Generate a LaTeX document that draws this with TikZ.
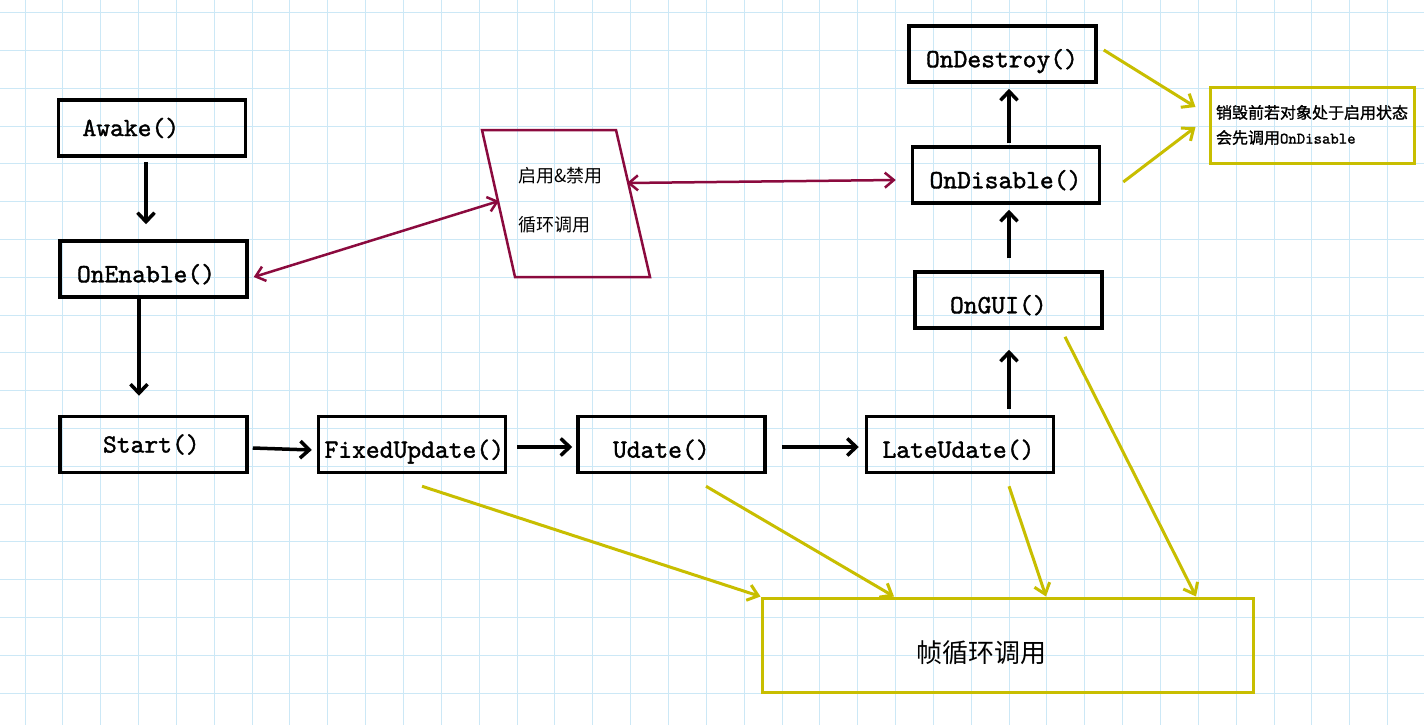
\documentclass[tikz,border=0pt]{standalone}
\usepackage{fontspec}
\newfontfamily\cjk{Noto Sans CJK SC}
\newfontfamily\cjkheavy{Noto Sans CJK SC}[FakeBold=1.2]
\newfontfamily\codefont{lmmono10-regular.otf}[FakeBold=1.4]
\usetikzlibrary{arrows.meta}
\definecolor{gridblue}{RGB}{204,232,246}
\definecolor{loopyellow}{RGB}{200,190,0}
\definecolor{switchred}{RGB}{139,10,62}

\begin{document}
\begin{tikzpicture}[x=1pt,y=-1pt,
    func/.style={draw,line width=3.5pt,text width=187pt,inner xsep=0pt,minimum height=56pt,align=left,font=\fontsize{26.3}{30}\selectfont\codefont},
    low/.style={text height=32.5pt,text depth=6pt},
    flow/.style={line width=3.5pt,-{Straight Barb[length=9pt,width=17pt]}},
    call/.style={loopyellow,line width=3pt,-{Straight Barb[length=10pt,width=16pt]}},
    toggle/.style={switchred,line width=2.5pt,{Straight Barb[length=9pt,width=15pt]}-{Straight Barb[length=9pt,width=15pt]}}]
            % paper
            \useasboundingbox (0,0) rectangle (1424,725);
            \fill[white] (0,0) rectangle (1424,725);
            \foreach \i in {0,...,36}
                \draw[gridblue,line width=1pt] ({25+37.85*\i},0) -- ({25+37.85*\i},725);
            \foreach \j in {0,...,18}
                \draw[gridblue,line width=1pt] (0,{12.7+37.8*\j}) -- (1424,{12.7+37.8*\j});
            % lifecycle functions
            \node[func] (awake) at (152,128) {\hspace*{24pt}Awake()};
            \node[func,low] (onenable) at (153.5,269) {\hspace*{17pt}OnEnable()};
            \node[func] (start) at (153.5,444.5) {\hspace*{43pt}Start()};
            \node[func,low] (fixed) at (412,444.5) {\hspace*{6pt}\mbox{FixedUpdate()}};
            \node[func,low] (udate) at (671.5,444.5) {\hspace*{35pt}Udate()};
            \node[func,low] (late) at (960,444.5) {\hspace*{16pt}LateUdate()};
            \node[func,low] (ongui) at (1008.5,300) {\hspace*{35pt}OnGUI()};
            \node[func,low] (ondisable) at (1006,175) {\hspace*{17pt}OnDisable()};
            \node[func,low] (ondestroy) at (1002.5,54) {\hspace*{17pt}OnDestroy()};
            % enable / disable block
            \draw[switchred,line width=2.5pt] (482,130) -- (616,130) -- (650,277) -- (515,277) -- cycle;
            \node[anchor=west,align=left,inner sep=0pt,font=\cjk\fontsize{18}{22}\selectfont] (switch) at (518,200.5)
                {启用\&禁用\\[27pt]循环调用};
            \coordinate (switchin) at (499,201);
            \coordinate (switchout) at (627,183);
            \node[draw=loopyellow,line width=3pt,text width=204pt,inner xsep=0pt,minimum height=76pt,align=left,
                font=\cjkheavy\fontsize{16}{25}\selectfont] (note) at (1312,125)
                {\hspace*{6pt}销毁前若对象处于启用状态\\\hspace*{6pt}会先调用{\codefont OnDisable}};
            \node[draw=loopyellow,line width=3pt,text width=491pt,inner xsep=0pt,minimum height=94pt,align=left,
                text height=38pt,text depth=4pt,font=\cjk\fontsize{26}{30}\selectfont] (loop) at (1007.5,645)
                {\hspace*{154pt}帧循环调用};
            % order of calls
            \draw[flow] ([xshift=-6pt,yshift=-4pt]awake.south) -- ([xshift=-7.5pt,yshift=15pt]onenable.north);
            \draw[flow] ([xshift=-14.5pt]onenable.south) -- ([xshift=-14.5pt,yshift=19pt]start.north);
            \draw[flow] ([xshift=4pt,yshift=-3.5pt]start.east) -- ([xshift=-5pt,yshift=-5.5pt]fixed.west);
            \draw[flow] ([xshift=10pt,yshift=-2.5pt]fixed.east) -- ([xshift=-4pt,yshift=-2.5pt]udate.west);
            \draw[flow] ([xshift=15pt,yshift=-2.5pt]udate.east) -- ([xshift=-6pt,yshift=-2.5pt]late.west);
            \draw[flow] ([xshift=49pt,yshift=6pt]late.north) -- ([xshift=0.5pt,yshift=-20pt]ongui.south);
            \draw[flow] ([xshift=0.5pt,yshift=12pt]ongui.north) -- ([xshift=3pt,yshift=-5pt]ondisable.south);
            \draw[flow] ([xshift=3pt,yshift=2pt]ondisable.north) -- ([xshift=6.5pt,yshift=-5pt]ondestroy.south);
            % enable / disable
            \draw[toggle] ([xshift=5pt,yshift=-8pt]onenable.east) -- (switchin);
            \draw[toggle] (switchout) -- ([xshift=-15pt,yshift=-5pt]ondisable.west);
            % notes
            \draw[call] ([xshift=6pt,yshift=4pt]ondestroy.east) -- ([xshift=-13pt,yshift=18pt]note.west);
            \draw[call] ([xshift=22pt,yshift=-7pt]ondisable.east) -- ([xshift=-13pt,yshift=-2pt]note.west);
            \draw[call] ([xshift=10pt,yshift=-12pt]fixed.south) -- (loop.north west);
            \draw[call] ([xshift=34.5pt,yshift=-12pt]udate.south) -- ([xshift=-113.5pt]loop.north);
            \draw[call] ([xshift=49pt,yshift=-12pt]late.south) -- ([xshift=38.5pt]loop.north);
            \draw[call] ([xshift=56.5pt,yshift=-7pt]ongui.south) -- ([xshift=188.5pt]loop.north);
        \end{tikzpicture}
\end{document}
